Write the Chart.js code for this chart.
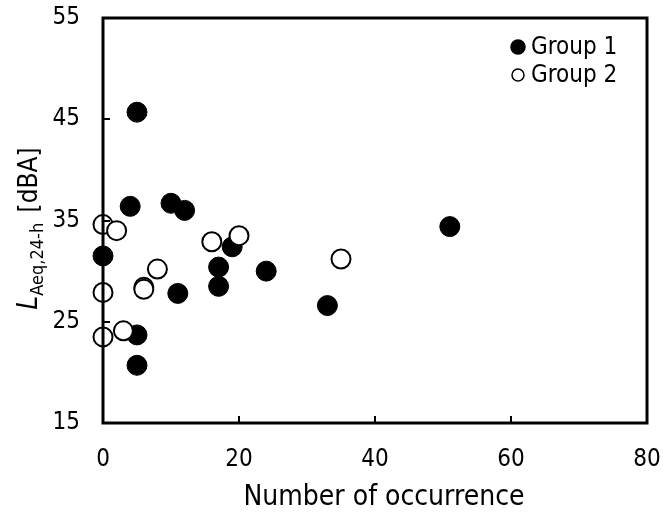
<!DOCTYPE html>
<html>
<head>
<meta charset="utf-8">
<script src="https://cdn.jsdelivr.net/npm/chart.js@4"></script>
<style>
  html, body { margin: 0; padding: 0; background: #fff; }
  #wrap { width: 663px; height: 517px; }
</style>
</head>
<body>
<div id="wrap"><canvas id="myChart" width="663" height="517"></canvas></div>
<script>
// values
const group1X = [5, 4, 10, 12, 0, 51, 19, 17, 24, 17, 11, 33, 5, 5];
const group1Y = [45.7, 36.4, 36.7, 36.0, 31.5, 34.4, 32.4, 30.4, 30.0, 28.5, 27.8, 26.6, 23.7, 20.7];
const group2X = [0, 2, 16, 20, 8, 35, 6, 6, 0, 3, 0];
const group2Y = [34.6, 34.0, 32.9, 33.5, 30.2, 31.2, 28.4, 28.2, 27.9, 24.1, 23.5];
const seriesNames = ["Group 1", "Group 2"];
const xTicks = [0, 20, 40, 60, 80];
const yTicks = [15, 25, 35, 45, 55];
const xTitle = "Number of occurrence";

const FONT = "'DejaVu Sans Condensed', 'DejaVu Sans', sans-serif";

function toPoints(xs, ys) {
  return xs.map((x, i) => ({ x: x, y: ys[i] }));
}

// frame, inner ticks, axis titles and legend
const decorations = {
  id: "decorations",
  afterDatasetsDraw(chart) {
    const ctx = chart.ctx;
    const a = chart.chartArea;
    const xs = chart.scales.x;
    const ys = chart.scales.y;
    ctx.save();
    ctx.strokeStyle = "#000";
    ctx.lineWidth = 3;
    ctx.strokeRect(a.left, a.top, a.right - a.left, a.bottom - a.top);
    ctx.lineWidth = 2;
    ctx.beginPath();
    xTicks.slice(1, -1).forEach(v => {
      let px = Math.round(xs.getPixelForValue(v));
      ctx.moveTo(px, a.bottom);
      ctx.lineTo(px, a.bottom - 7);
    });
    yTicks.slice(1, -1).forEach(v => {
      let py = Math.round(ys.getPixelForValue(v));
      ctx.moveTo(a.left, py);
      ctx.lineTo(a.left + 7, py);
    });
    ctx.stroke();
    ctx.restore();
  },
  afterDraw(chart) {
    const ctx = chart.ctx;
    ctx.save();
    ctx.fillStyle = "#000";

    // x title
    ctx.font = "28px " + FONT;
    ctx.textAlign = "center";
    ctx.textBaseline = "middle";
    ctx.fillText(xTitle, 384, 498);

    // y title: L (italic) + subscript + [dBA]
    ctx.translate(27, 230);
    ctx.rotate(-Math.PI / 2);
    const parts = [
      { t: "L", f: "italic 28px " + FONT, dy: 0 },
      { t: "Aeq,24-h", f: "18px " + FONT, dy: 6 },
      { t: " [dBA]", f: "26px " + FONT, dy: 0 }
    ];
    let total = 0;
    parts.forEach(p => { ctx.font = p.f; p.w = ctx.measureText(p.t).width; total += p.w; });
    let cx = -total / 2;
    ctx.textAlign = "left";
    ctx.textBaseline = "alphabetic";
    parts.forEach(p => {
      ctx.font = p.f;
      ctx.fillText(p.t, cx, 10 + p.dy);
      cx += p.w + (p.t === "Aeq,24-h" ? 3 : 0);
    });
    ctx.restore();

    // legend
    ctx.save();
    ctx.font = "24px " + FONT;
    ctx.textAlign = "left";
    ctx.textBaseline = "middle";
    ctx.lineWidth = 1.5;
    const rows = [47, 75];
    seriesNames.forEach((name, i) => {
      ctx.beginPath();
      ctx.arc(518, rows[i], i === 0 ? 7 : 6, 0, Math.PI * 2);
      ctx.fillStyle = i === 0 ? "#000" : "#fff";
      ctx.fill();
      ctx.strokeStyle = "#000";
      ctx.stroke();
      ctx.fillStyle = "#000";
      ctx.fillText(name, 531, rows[i] + 1);
    });
    ctx.restore();
  }
};

const data = {
  datasets: [
    {
      label: seriesNames[0],
      data: toPoints(group1X, group1Y),
      backgroundColor: "#000",
      borderColor: "#000",
      borderWidth: 1,
      pointRadius: 10,
      order: 2,
      clip: false
    },
    {
      label: seriesNames[1],
      data: toPoints(group2X, group2Y),
      backgroundColor: "#fff",
      borderColor: "#000",
      borderWidth: 2,
      pointRadius: 9.5,
      order: 1,
      clip: false
    }
  ]
};

const config = {
  type: "scatter",
  data: data,
  options: {
    responsive: false,
    animation: false,
    layout: { padding: { left: 0, right: 16, top: 18, bottom: 0 } },
    plugins: {
      legend: { display: false },
      tooltip: { enabled: false }
    },
    scales: {
      x: {
        type: "linear",
        min: 0,
        max: 80,
        grid: { display: false },
        border: { display: false },
        afterBuildTicks: (scale) => { scale.ticks = xTicks.map(v => ({ value: v })); },
        afterFit: (scale) => {
          scale.height = 94;
          scale.paddingLeft = 0;
          scale.paddingRight = 0;
        },
        ticks: {
          padding: 14,
          color: "#000",
          font: { family: FONT, size: 24 },
          maxRotation: 0
        }
      },
      y: {
        type: "linear",
        min: 15,
        max: 55,
        grid: { display: false },
        border: { display: false },
        afterBuildTicks: (scale) => { scale.ticks = yTicks.map(v => ({ value: v })); },
        afterFit: (scale) => {
          scale.width = 103;
          scale.paddingTop = 0;
          scale.paddingBottom = 0;
        },
        ticks: {
          padding: 15,
          color: "#000",
          font: { family: FONT, size: 24 }
        }
      }
    }
  },
  plugins: [decorations]
};

const myChart = new Chart(document.getElementById("myChart"), config);
</script>
</body>
</html>
